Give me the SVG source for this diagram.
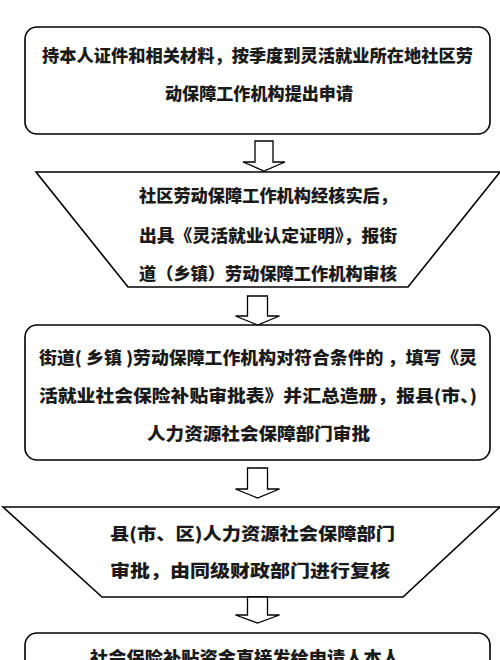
<svg xmlns="http://www.w3.org/2000/svg" width="500" height="660" viewBox="0 0 500 660">
<style>
.shape{fill:#fff;stroke:#000;stroke-width:1.6}
.arrow{fill:#fff;stroke:#000;stroke-width:1.3;stroke-linejoin:miter}
.t{font-family:"Noto Sans CJK SC","Noto Sans CJK TC",sans-serif;font-size:17px;font-weight:900;fill:#1a1a1a}
.m{text-anchor:middle}
</style>
<rect width="500" height="660" fill="#fff"/>
<g id="node1">
<rect class="shape" x="25" y="27" width="465" height="107" rx="12"/>
<text class="t" x="42" y="62" textLength="431" lengthAdjust="spacingAndGlyphs">持本人证件和相关材料，按季度到灵活就业所在地社区劳</text>
<text class="t" x="165" y="99.5" textLength="188" lengthAdjust="spacingAndGlyphs">动保障工作机构提出申请</text>
</g>
<g id="node2">
<polygon class="shape" points="36,172 500,172 408,287 128,287"/>
<text class="t" x="139" y="201.5" textLength="258" lengthAdjust="spacingAndGlyphs">社区劳动保障工作机构经核实后，</text>
<text class="t" x="139" y="241.5" textLength="258" lengthAdjust="spacingAndGlyphs">出具《灵活就业认定证明》，报街</text>
<text class="t" x="139" y="279.5" textLength="258" lengthAdjust="spacingAndGlyphs">道（乡镇）劳动保障工作机构审核</text>
</g>
<g id="node3">
<rect class="shape" x="25" y="325" width="465" height="135" rx="12"/>
<text class="t" x="39" y="363.5" textLength="438" lengthAdjust="spacingAndGlyphs">街道( 乡镇 )劳动保障工作机构对符合条件的 ，填写《灵</text>
<text class="t" x="39" y="401.5" textLength="438" lengthAdjust="spacingAndGlyphs">活就业社会保险补贴审批表》并汇总造册，报县(市、)</text>
<text class="t" x="147" y="439.5" textLength="223" lengthAdjust="spacingAndGlyphs">人力资源社会保障部门审批</text>
</g>
<g id="node4">
<polygon class="shape" points="3,507 500,507 403,597 102,597"/>
<text class="t" x="110" y="539.5" textLength="285" lengthAdjust="spacingAndGlyphs">县(市、区)人力资源社会保障部门</text>
<text class="t" x="110" y="576.5" textLength="280" lengthAdjust="spacingAndGlyphs">审批，由同级财政部门进行复核</text>
</g>
<g id="node5">
<rect class="shape" x="25" y="633" width="465" height="100" rx="12"/>
<text class="t" x="90" y="664" textLength="310" lengthAdjust="spacingAndGlyphs">社会保险补贴资金直接发给申请人本人</text>
</g>
<g id="connectors">
<polygon class="arrow" points="255,141 273,141 273,162 285,162 264,171 243,162 255,162"/>
<polygon class="arrow" points="247.5,296 267.5,296 267.5,316 279.5,316 257.5,325 235.5,316 247.5,316"/>
<polygon class="arrow" points="247.5,468 267.5,468 267.5,489 279.5,489 257.5,498 235.5,489 247.5,489"/>
<polygon class="arrow" points="247.5,597 267.5,597 267.5,615 279.5,615 257.5,623 235.5,615 247.5,615"/>
</g>
</svg>
